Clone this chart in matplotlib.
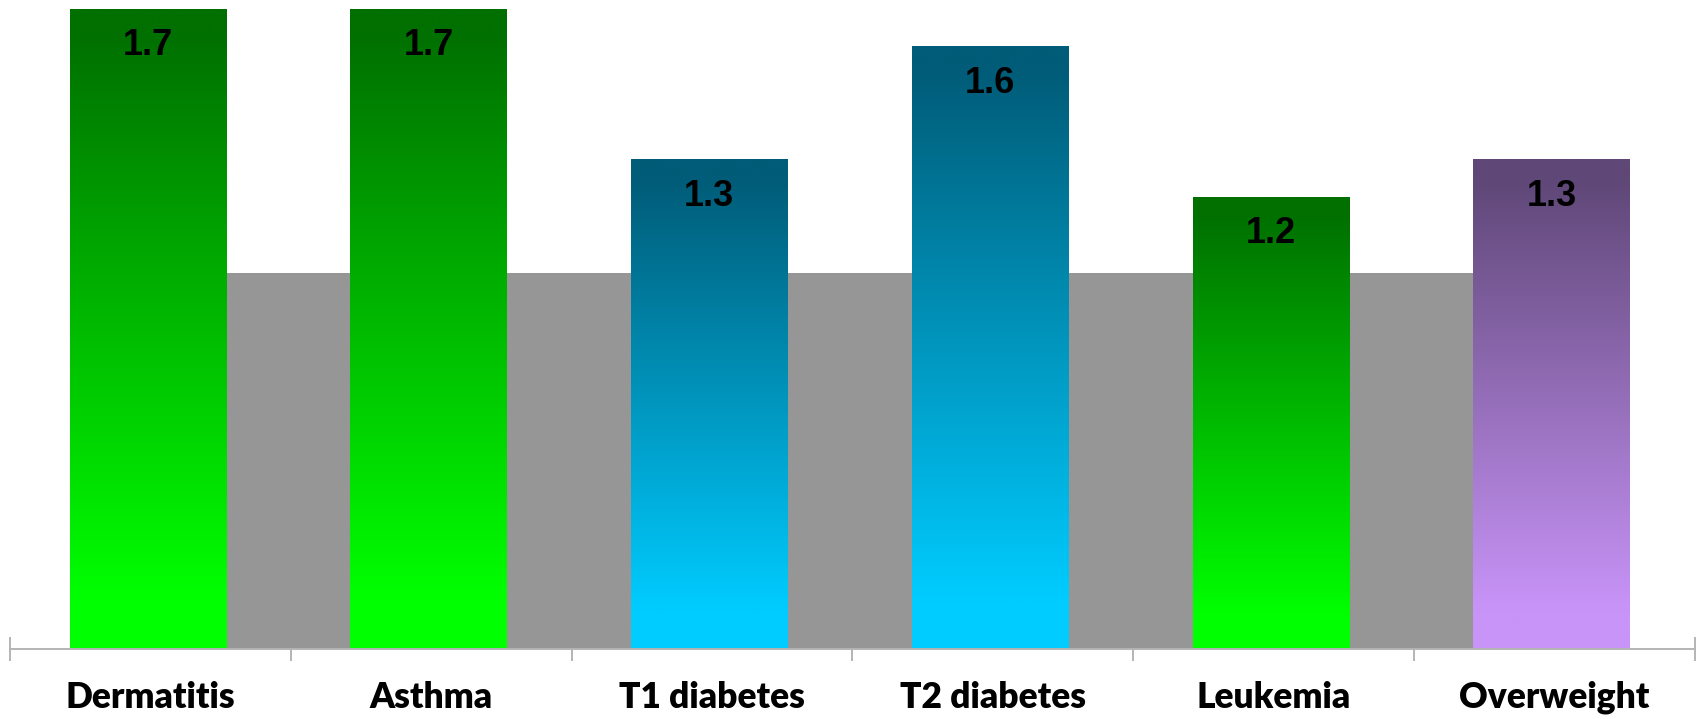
import numpy as np
import matplotlib
matplotlib.use('Agg')
import matplotlib.pyplot as plt
from matplotlib.colors import LinearSegmentedColormap

categories = ['Dermatitis', 'Asthma', 'T1 diabetes', 'T2 diabetes', 'Leukemia', 'Overweight']
ratios = [1.7, 1.7, 1.3, 1.6, 1.2, 1.3]
reference = [1.0, 1.0, 1.0, 1.0, 1.0]

# gradient (top, bottom) per bar
green = ('#007000', '#00ff00')
blue = ('#005c78', '#00ccff')
purple = ('#5f4777', '#c894f8')
bar_grads = [green, green, blue, blue, green, purple]

fig = plt.figure(figsize=(16.98, 7.19), dpi=100)
ax = fig.add_axes([0.006, 0.0974, 0.992, 0.9026])

x = np.arange(len(categories))
bar_w = 0.556
shift = -0.01

# grey reference bars sit in the gaps between the coloured bars
ax.bar(x[:-1] + 0.5 + shift, reference, width=1 - bar_w, color='#969696', zorder=1)

bars = ax.bar(x + shift, ratios, width=bar_w, facecolor='none', edgecolor='none', zorder=2)
grad = np.linspace(0, 1, 256).reshape(-1, 1)
for bar, (top, bottom), val in zip(bars, bar_grads, ratios):
    bx, by = bar.get_xy()
    bw, bh = bar.get_width(), bar.get_height()
    cmap = LinearSegmentedColormap.from_list('g', [(0, top), (0.04, top), (0.92, bottom), (1, bottom)])
    ax.imshow(grad, extent=[bx, bx + bw, by, by + bh], origin='upper', aspect='auto',
              cmap=cmap, zorder=2, interpolation='bicubic')
    ax.annotate(f'{val:.1f}', (bx + bw / 2, by + bh), xytext=(0, -13.5), textcoords='offset points',
                ha='center', va='top', fontsize=26, fontweight='bold', family='Liberation Sans',
                color='black', zorder=3)

ax.set_xlim(-0.5, len(categories) - 0.5)
ax.set_ylim(0, 1.7246)
ax.set_yticks([])
ax.set_xticks(np.arange(-0.5, len(categories), 1.0))
ax.set_xticklabels([])
ax.set_xticks(x, minor=True)
ax.set_xticklabels(categories, minor=True, fontsize=25.5, fontweight='heavy', family='Lato')
ax.tick_params(axis='x', which='major', direction='out', length=8.6, width=1.4, color='#b4b4b4')
ax.tick_params(axis='x', which='minor', length=0, pad=23)

ax.spines['top'].set_visible(False)
ax.spines['bottom'].set_color('#b4b4b4')
ax.spines['bottom'].set_linewidth(1.4)
for side in ['left', 'right']:
    ax.spines[side].set_color('#b4b4b4')
    ax.spines[side].set_linewidth(1.4)
    ax.spines[side].set_bounds(0, 0.03)

plt.savefig('out.png', dpi=100)
